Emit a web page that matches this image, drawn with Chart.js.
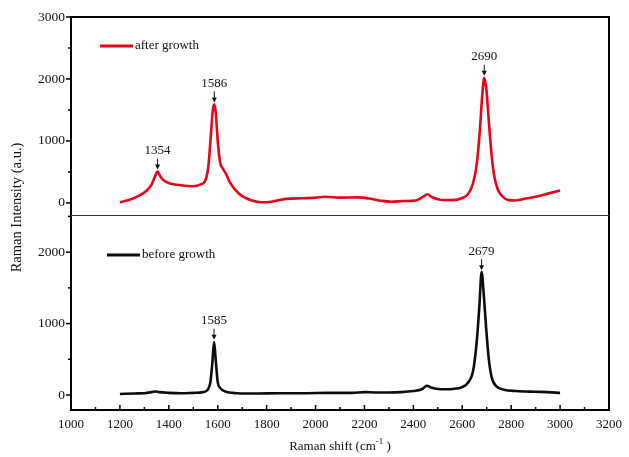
<!DOCTYPE html>
<html>
<head>
<meta charset="utf-8">
<script src="https://cdn.jsdelivr.net/npm/chart.js@4.4.1/dist/chart.umd.min.js"></script>
<style>
  html, body { margin: 0; padding: 0; background: #fff; }
  #wrap { width: 629px; height: 457px; }
</style>
</head>
<body>
<div id="wrap"><canvas id="raman" width="629" height="457"></canvas></div>
<script>
// ── Data ───────────────────────────────────────────────────
const afterShift = [1200, 1240, 1280, 1310, 1330, 1345, 1354, 1365, 1380, 1410, 1450, 1500, 1530, 1550, 1562, 1572, 1580, 1586, 1592, 1600, 1610, 1620, 1635, 1650, 1670, 1700, 1740, 1780, 1820, 1880, 1950, 2000, 2040, 2100, 2170, 2220, 2270, 2310, 2360, 2410, 2440, 2458, 2475, 2510, 2560, 2600, 2625, 2645, 2660, 2672, 2682, 2690, 2698, 2708, 2718, 2730, 2745, 2765, 2790, 2820, 2860, 2900, 2950, 3000];
const afterIntensity = [10, 50, 120, 200, 300, 440, 505, 430, 360, 310, 285, 270, 300, 370, 600, 1100, 1500, 1590, 1450, 1000, 650, 560, 460, 330, 220, 110, 40, 10, 20, 65, 75, 85, 100, 85, 90, 70, 35, 20, 30, 40, 100, 140, 95, 50, 45, 80, 150, 330, 650, 1180, 1750, 2020, 1850, 1350, 850, 450, 220, 100, 45, 40, 70, 100, 150, 200];

const beforeShift = [1200, 1260, 1300, 1330, 1345, 1360, 1400, 1450, 1500, 1540, 1560, 1570, 1578, 1585, 1592, 1600, 1610, 1630, 1680, 1750, 1850, 1950, 2050, 2150, 2200, 2250, 2300, 2350, 2400, 2435, 2455, 2475, 2510, 2560, 2600, 2625, 2645, 2660, 2670, 2679, 2688, 2698, 2708, 2720, 2740, 2770, 2820, 2900, 2950, 3000];
const beforeIntensity = [15, 22, 25, 40, 50, 40, 30, 25, 30, 40, 80, 180, 450, 740, 480, 180, 100, 50, 25, 20, 25, 25, 30, 30, 40, 35, 35, 40, 55, 80, 130, 100, 80, 85, 110, 180, 350, 780, 1250, 1720, 1400, 920, 520, 250, 120, 75, 55, 45, 40, 30];

const xTickLabels = [1000, 1200, 1400, 1600, 1800, 2000, 2200, 2400, 2600, 2800, 3000, 3200];
const yTopTickLabels = [0, 1000, 2000, 3000];
const yBotTickLabels = [0, 1000, 2000];

// peak annotations: which panel, position and label
const peakAxis = ['yTop', 'yTop', 'yTop', 'yBot', 'yBot'];
const peakShift = [1354, 1586, 2690, 1585, 2679];
const peakHeight = [505, 1590, 2020, 745, 1720];
const peakText = ['1354', '1586', '2690', '1585', '2679'];

const seriesNames = ['after growth', 'before growth'];
const RED = '#e2071b';
const BLACK = '#0d0d0d';
const SERIF = '"Liberation Serif", "Times New Roman", serif';

// ── Decorations: frame, tick marks, legends, arrows, titles ──
const ramanDecor = {
  id: 'ramanDecor',
  afterDraw(chart) {
    const { ctx, chartArea: a, scales } = chart;
    const sx = scales.x, yT = scales.yTop, yB = scales.yBot;

    const seg = (x1, y1, x2, y2) => {
      ctx.beginPath(); ctx.moveTo(x1, y1); ctx.lineTo(x2, y2); ctx.stroke();
    };

    ctx.save();
    ctx.strokeStyle = '#000';
    ctx.lineCap = 'butt';

    // frame + panel separator
    ctx.lineWidth = 2;
    ctx.strokeRect(a.left, a.top, a.right - a.left, a.bottom - a.top);
    ctx.lineWidth = 1;
    ctx.strokeStyle = '#333';
    const sepY = Math.round(yT.bottom) + 0.5;
    seg(a.left, sepY, a.right, sepY);

    // y tick marks (outward), major every 1000, minor every 500
    ctx.strokeStyle = '#000';
    ctx.lineWidth = 1.5;
    for (const s of [yT, yB]) {
      for (let v = Math.ceil(s.min / 500) * 500; v <= s.max; v += 500) {
        const py = s.getPixelForValue(v);
        const len = v % 1000 === 0 ? 5 : 3;
        seg(a.left - len, py, a.left, py);
      }
    }
    // x tick marks (inward), major every 200, minor every 100
    for (let v = sx.min; v <= sx.max; v += 100) {
      const px = sx.getPixelForValue(v);
      const len = v % 200 === 0 ? 5 : 3;
      seg(px, a.bottom, px, a.bottom - len);
    }

    // legends inside each panel
    ctx.font = '13px ' + SERIF;
    ctx.textBaseline = 'middle';
    ctx.textAlign = 'left';
    ctx.lineWidth = 3;
    const legends = [
      { y: yT.top + 29, x0: a.left + 29, color: RED, name: seriesNames[0] },
      { y: yB.top + 40, x0: a.left + 36, color: BLACK, name: seriesNames[1] }
    ];
    for (const l of legends) {
      ctx.strokeStyle = l.color;
      seg(l.x0, l.y, l.x0 + 33, l.y);
      ctx.fillStyle = '#111';
      ctx.fillText(l.name, l.x0 + 35, l.y);
    }

    // peak labels with arrows
    ctx.textAlign = 'center';
    ctx.strokeStyle = '#111';
    ctx.fillStyle = '#111';
    ctx.lineWidth = 1;
    peakShift.forEach((sh, i) => {
      const px = sx.getPixelForValue(sh);
      const py = scales[peakAxis[i]].getPixelForValue(peakHeight[i]);
      ctx.fillText(peakText[i], px, py - 21);
      seg(px, py - 13, px, py - 6);
      ctx.beginPath();
      ctx.moveTo(px - 2.5, py - 7);
      ctx.lineTo(px + 2.5, py - 7);
      ctx.lineTo(px, py - 2);
      ctx.closePath();
      ctx.fill();
    });

    // y axis title
    ctx.save();
    ctx.translate(17, (a.top + a.bottom) / 2 - 6);
    ctx.rotate(-Math.PI / 2);
    ctx.textAlign = 'center';
    ctx.font = '14.5px ' + SERIF;
    ctx.fillText('Raman Intensity (a.u.)', 0, 0);
    ctx.restore();

    // x axis title with superscript
    const part1 = 'Raman shift (cm', sup = '-1', part2 = ' )';
    ctx.font = '13px ' + SERIF;
    const w1 = ctx.measureText(part1).width, w3 = ctx.measureText(part2).width;
    ctx.font = '9px ' + SERIF;
    const w2 = ctx.measureText(sup).width;
    let tx = (a.left + a.right) / 2 - (w1 + w2 + w3) / 2;
    const ty = 447;
    ctx.textAlign = 'left';
    ctx.font = '13px ' + SERIF;
    ctx.fillText(part1, tx, ty);
    tx += w1;
    ctx.font = '9px ' + SERIF;
    ctx.fillText(sup, tx, ty - 5);
    tx += w2;
    ctx.font = '13px ' + SERIF;
    ctx.fillText(part2, tx, ty);

    ctx.restore();
  }
};

const toPoints = (xs, ys) => xs.map((x, i) => ({ x, y: ys[i] }));

const yScale = (weight, min, max, labels) => ({
  type: 'linear',
  position: 'left',
  stack: 'panels',
  stackWeight: weight,
  min, max,
  border: { display: false },
  grid: { display: false, drawTicks: false },
  ticks: {
    autoSkip: false,
    padding: 6,
    color: '#111',
    font: { family: SERIF, size: 13.5 },
    callback: (v) => String(v)
  },
  afterBuildTicks: (s) => { s.ticks = labels.map(v => ({ value: v })); },
  afterFit: (s) => { s.width = 71; }
});

new Chart(document.getElementById('raman'), {
  type: 'line',
  data: {
    datasets: [
      {
        label: seriesNames[0],
        data: toPoints(afterShift, afterIntensity),
        yAxisID: 'yTop',
        borderColor: RED,
        borderWidth: 2.6,
        pointRadius: 0,
        cubicInterpolationMode: 'monotone'
      },
      {
        label: seriesNames[1],
        data: toPoints(beforeShift, beforeIntensity),
        yAxisID: 'yBot',
        borderColor: BLACK,
        borderWidth: 2.6,
        pointRadius: 0,
        cubicInterpolationMode: 'monotone'
      }
    ]
  },
  options: {
    responsive: false,
    animation: false,
    devicePixelRatio: 1,
    layout: { padding: { top: 17, right: 16, left: 0, bottom: 0 } },
    plugins: { legend: { display: false }, tooltip: { enabled: false } },
    scales: {
      x: {
        type: 'linear',
        position: 'bottom',
        min: 1000,
        max: 3200,
        border: { display: false },
        grid: { display: false, drawTicks: false },
        ticks: {
          autoSkip: false,
          maxRotation: 0,
          padding: 7,
          color: '#111',
          font: { family: SERIF, size: 13 },
          callback: (v) => String(v)
        },
        afterBuildTicks: (s) => { s.ticks = xTickLabels.map(v => ({ value: v })); },
        afterFit: (s) => { s.height = 47; }
      },
      // bottom panel listed first so the stack puts it below the top panel
      yBot: yScale(195, -210, 2520, yBotTickLabels),
      yTop: yScale(198, -195, 3000, yTopTickLabels)
    }
  },
  plugins: [ramanDecor]
});
</script>
</body>
</html>
